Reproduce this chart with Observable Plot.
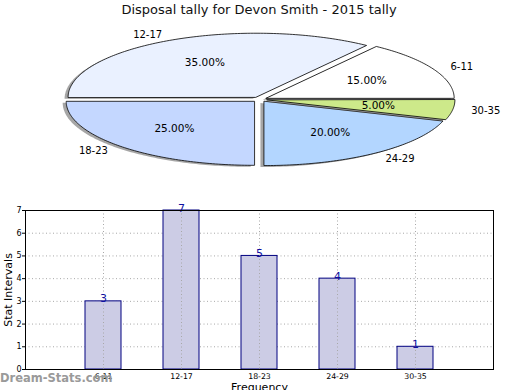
<!DOCTYPE html>
<html>
<head>
<meta charset="utf-8">
<script src="https://cdn.jsdelivr.net/npm/d3@7"></script>
<script src="https://cdn.jsdelivr.net/npm/@observablehq/plot@0.6"></script>
<style>
  html, body { margin: 0; padding: 0; background: #fff; }
  #wrap { position: relative; width: 520px; height: 390px; overflow: hidden; font-family: "DejaVu Sans", sans-serif; }
  #title { position: absolute; left: 0; top: 0; width: 518px; height: 20px; line-height: 20px; text-align: center; font-size: 13px; color: #111; }
  #pie { position: absolute; left: 0; top: 20px; }
  #bar { position: absolute; left: 0; top: 195px; }
  #wm { position: absolute; left: 0; top: 371px; font-size: 11.5px; font-weight: bold; color: #9a9a9a; white-space: nowrap; }
</style>
</head>
<body>
<div id="wrap">
  <div id="title"></div>
  <div id="pie"></div>
  <div id="bar"></div>
  <div id="wm">Dream-Stats.com</div>
</div>
<script>
// ---- data ----
const titleText = "Disposal tally for Devon Smith - 2015 tally";
const labels = ["6-11", "12-17", "18-23", "24-29", "30-35"];
const counts = [3, 7, 5, 4, 1];
const pieColors = ["#ffffff", "#eaf1ff", "#c4d7ff", "#b3d6ff", "#cde98a"];
const yTicks = [0, 1, 2, 3, 4, 5, 6, 7];
const xLabel = "Frequency";
const yLabel = "Stat Intervals";

document.getElementById("title").textContent = titleText;

// ---- pie ----
const W = 520, PH = 175;
const CX = 259, CY = 79, RX = 188, RY = 64;
const EXPLODE = 0.04;
const total = d3.sum(counts);
let cum = 0;
const slices = labels.map((label, i) => {
  const a0 = cum / total * 2 * Math.PI;
  cum += counts[i];
  const a1 = cum / total * 2 * Math.PI;
  const mid = (a0 + a1) / 2;
  return {
    label, value: counts[i], color: pieColors[i], a0, a1, mid,
    ex: EXPLODE * Math.cos(mid), ey: EXPLODE * Math.sin(mid),
    pct: (counts[i] / total * 100).toFixed(2) + "%"
  };
});
function slicePoints(s) {
  const pts = [{x: s.ex, y: s.ey}];
  const n = Math.ceil((s.a1 - s.a0) / (Math.PI / 180)) + 1;
  for (let k = 0; k <= n; k++) {
    const t = s.a0 + (s.a1 - s.a0) * k / n;
    pts.push({x: s.ex + Math.cos(t), y: s.ey + Math.sin(t)});
  }
  return pts;
}
const pieMarks = [];
for (const s of slices) {
  const pts = slicePoints(s);
  pieMarks.push(Plot.line(pts, {x: "x", y: "y", curve: "linear-closed", fill: "#4d4d4d", fillOpacity: 0.5, stroke: "none", dx: -3.5, dy: 1.5}));
  pieMarks.push(Plot.line(pts, {x: "x", y: "y", curve: "linear-closed", fill: s.color, stroke: "black", strokeWidth: 0.8}));
}
const lab = (r) => ({
  x: d => d.ex + r * Math.cos(d.mid),
  y: d => d.ey + r * Math.sin(d.mid)
});
pieMarks.push(Plot.text(slices, {...lab(1.1), text: "label", filter: d => Math.cos(d.mid) >= 0, textAnchor: "start", fontSize: 10, fill: "black"}));
pieMarks.push(Plot.text(slices, {...lab(1.1), text: "label", filter: d => Math.cos(d.mid) < 0, textAnchor: "end", fontSize: 10, fill: "black"}));
pieMarks.push(Plot.text(slices, {...lab(0.6), text: "pct", fontSize: 10.5, fill: "black"}));

const pie = Plot.plot({
  width: W, height: PH,
  margin: 0,
  style: {fontFamily: "DejaVu Sans", background: "transparent", overflow: "visible"},
  x: {type: "linear", domain: [-CX / RX, (W - CX) / RX], range: [0, W]},
  y: {type: "linear", domain: [(CY - PH) / RY, CY / RY], range: [PH, 0]},
  axis: null,
  marks: pieMarks
});
document.getElementById("pie").appendChild(pie);

// ---- bar chart ----
const bars = labels.map((label, i) => ({label, value: counts[i]}));
const bar = Plot.plot({
  width: W, height: 195,
  marginTop: 15, marginBottom: 21, marginLeft: 25, marginRight: 27,
  style: {fontFamily: "DejaVu Sans", background: "transparent", overflow: "visible"},
  x: {type: "band", domain: labels, paddingInner: 0.54, paddingOuter: 0.77, label: null},
  y: {domain: [0, 7], label: null},
  marks: [
    Plot.gridY(yTicks.slice(1, -1), {stroke: "#a8a8a8", strokeOpacity: 1, strokeDasharray: "1,2.5"}),
    Plot.barY(bars, {x: "label", y: "value", fill: "#cccce5", stroke: "#000080", strokeWidth: 1}),
    Plot.gridX(labels, {stroke: "#a8a8a8", strokeOpacity: 1, strokeDasharray: "1,2.5"}),
    Plot.text(bars, {x: "label", y: "value", text: d => String(d.value), lineAnchor: "bottom", dy: 1, fontSize: 11, fill: "#1010a0"}),
    Plot.frame({stroke: "black", strokeWidth: 1}),
    Plot.axisY(yTicks, {tickSize: 3, tickPadding: 1, fontSize: 8, label: null, stroke: "black"}),
    Plot.axisX({tickSize: 0, tickPadding: 4, fontSize: 7.8, label: null}),
    Plot.text([yLabel], {frameAnchor: "left", textAnchor: "middle", rotate: -90, dx: -17, fontSize: 11, fill: "black"}),
    Plot.text([xLabel], {frameAnchor: "bottom", textAnchor: "middle", lineAnchor: "top", dy: 14, fontSize: 11, fill: "black"})
  ]
});
document.getElementById("bar").appendChild(bar);
</script>
</body>
</html>
